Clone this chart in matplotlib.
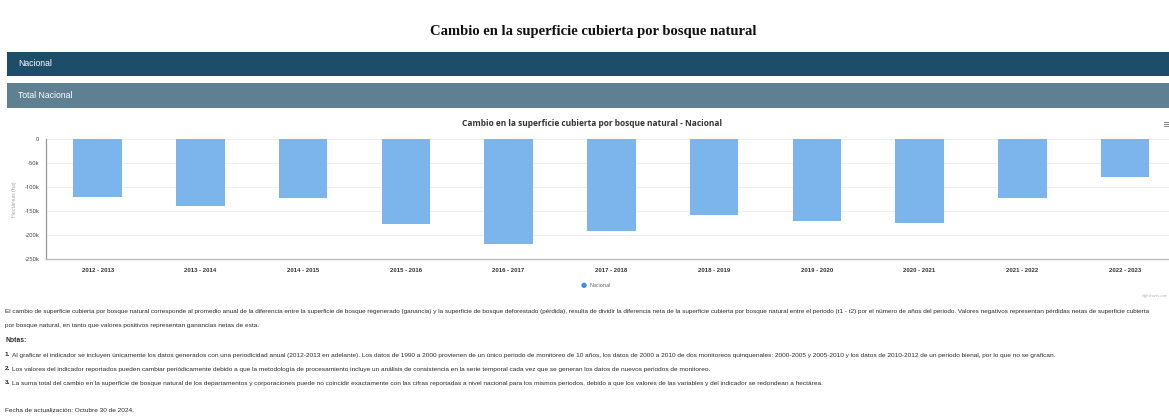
import numpy as np
import matplotlib
matplotlib.use("Agg")
from matplotlib import pyplot as plt
from matplotlib.patches import Rectangle

# data (ha per year)
periodos = ['2012 - 2013', '2013 - 2014', '2014 - 2015', '2015 - 2016', '2016 - 2017',
            '2017 - 2018', '2018 - 2019', '2019 - 2020', '2020 - 2021', '2021 - 2022',
            '2022 - 2023']
cambio_ha = [-120000, -139000, -122000, -177000, -219000, -191000, -158000,
             -170000, -174000, -122000, -78000]
y_ticks = [0, -50000, -100000, -150000, -200000, -250000]
y_labels = ['0', '-50k', '-100k', '-150k', '-200k', '-250k']

texto = ("El cambio de superficie cubierta por bosque natural corresponde al promedio anual de la diferencia "
         "entre la superficie de bosque regenerado (ganancia) y la superficie de bosque deforestado (pérdida), "
         "resulta de dividir la diferencia neta de la superficie cubierta por bosque natural entre el periodo "
         "(t1 - t2) por el número de años del periodo. Valores negativos representan pérdidas netas de superficie cubierta")
texto2 = "por bosque natural, en tanto que valores positivos representan ganancias netas de esta."
notas = [
    "Al graficar el indicador se incluyen únicamente los datos generados con una periodicidad anual (2012-2013 en adelante). "
    "Los datos de 1990 a 2000 provienen de un único periodo de monitoreo de 10 años, los datos de 2000 a 2010 de dos monitoreos "
    "quinquenales: 2000-2005 y 2005-2010 y los datos de 2010-2012 de un periodo bienal, por lo que no se grafican.",
    "Los valores del indicador reportados pueden cambiar periódicamente debido a que la metodología de procesamiento incluye "
    "un análisis de consistencia en la serie temporal cada vez que se generan los datos de nuevos periodos de monitoreo.",
    "La suma total del cambio en la superficie de bosque natural de los departamentos y corporaciones puede no coincidir "
    "exactamente con las cifras reportadas a nivel nacional para los mismos periodos, debido a que los valores de las "
    "variables y del indicador se redondean a hectárea.",
]

W, H = 1169, 420
fig = plt.figure(figsize=(W / 100, H / 100), dpi=100)
fig.patch.set_facecolor('white')

def fy(y):
    return 1 - y / H

def fx(x):
    return x / W

# page title
fig.text(fx(593), fy(32), 'Cambio en la superficie cubierta por bosque natural', ha='center', va='center',
         family='Liberation Serif', fontweight='bold', fontsize=10.5, color='#111111')

# header bands
fig.patches.append(Rectangle((fx(7), fy(76)), 1, 24 / H, transform=fig.transFigure,
                             facecolor='#1e4d6a', edgecolor='none'))
fig.patches.append(Rectangle((fx(7), fy(108)), 1, 25 / H, transform=fig.transFigure,
                             facecolor='#5f7f93', edgecolor='none'))
fig.text(fx(18), fy(64), 'Nacional', ha='left', va='center', family='Liberation Sans',
         fontsize=6.2, color='white')
fig.text(fx(18), fy(96), 'Total Nacional', ha='left', va='center', family='Liberation Sans',
         fontsize=6.2, color='white')

# chart
ax = fig.add_axes([fx(46.3), fy(259.3), fx(1176.4 - 46.3), 120 / H])
x = np.arange(len(periodos))
ax.bar(x, cambio_ha, width=0.473, color='#7cb5ec', zorder=3)
ax.set_xlim(-0.5, len(periodos) - 0.5)
ax.set_ylim(-250000, 0)
ax.set_yticks(y_ticks)
ax.set_yticklabels(y_labels, family='Open Sans', fontsize=4.2, color='#333333')
ax.set_xticks(x)
ax.set_xticklabels(periodos, family='Liberation Sans', fontsize=4.3, fontweight='bold', color='#333333')
ax.tick_params(length=0, pad=5)
ax.tick_params(axis='x', pad=6)
ax.grid(axis='y', color='#eeeeee', linewidth=0.7, zorder=0)
for s in ['top', 'right']:
    ax.spines[s].set_visible(False)
ax.spines['left'].set_color('#999999')
ax.spines['bottom'].set_color('#bbbbbb')
ax.spines['left'].set_linewidth(0.9)
ax.spines['bottom'].set_linewidth(1.0)
ax.set_ylabel('Hectáreas (ha)', family='Open Sans', fontsize=3.8, color='#999999', labelpad=5)

fig.text(fx(592.5), fy(124), 'Cambio en la superficie cubierta por bosque natural - Nacional', ha='center',
         va='center', family='Open Sans', fontweight='bold', fontsize=6.07, color='#333333')
# menu icon
for dy in (-2, 0, 2):
    fig.lines.append(plt.Line2D([fx(1164), fx(1169)], [fy(124 + dy), fy(124 + dy)],
                                transform=fig.transFigure, color='#666666', linewidth=0.6))

# legend
fig.text(fx(584), fy(285.5), '●', ha='center', va='center', fontsize=5, color='#3a8fe0')
fig.text(fx(589), fy(285.5), 'Nacional', ha='left', va='center', family='Open Sans',
         fontsize=3.8, color='#555555')
fig.text(fx(1168), fy(296), 'Highcharts.com', ha='right', va='center', family='Open Sans',
         fontsize=2.6, color='#aaaaaa')

# description and notes
fs = 4.65
fig.text(fx(5), fy(311), texto, ha='left', va='center', family='Liberation Sans', fontsize=4.58, color='#2a2a2a')
fig.text(fx(5), fy(326), texto2, ha='left', va='center', family='Liberation Sans', fontsize=fs, color='#2a2a2a')
fig.text(fx(5), fy(341), 'Notas:', ha='left', va='center', family='Liberation Sans', fontsize=fs + 0.2,
         fontweight='bold', color='#2a2a2a')
for i, nota in enumerate(notas):
    yy = fy(355 + i * 14)
    fig.text(fx(5), yy, f'{i + 1}.', ha='left', va='center', family='Liberation Sans', fontsize=fs,
             fontweight='bold', color='#2a2a2a')
    fig.text(fx(12.5), yy, nota, ha='left', va='center', family='Liberation Sans', fontsize=fs,
             color='#2a2a2a')
fig.text(fx(5), fy(410), 'Fecha de actualización: Octubre 30 de 2024.', ha='left', va='center',
         family='Liberation Sans', fontsize=fs, color='#2a2a2a')

fig.savefig('out.png', dpi=100, facecolor='white')
